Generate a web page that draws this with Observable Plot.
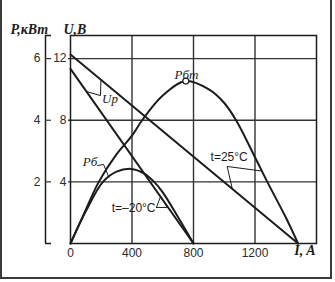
<!DOCTYPE html>
<html><head><meta charset="utf-8">
<script src="https://cdn.jsdelivr.net/npm/d3@7"></script>
<script src="https://cdn.jsdelivr.net/npm/@observablehq/plot@0.6"></script>
<style>
html,body{margin:0;padding:0;background:#fff;}
#wrap{position:relative;width:335px;height:282px;overflow:hidden;background:#fff;}
#border{position:absolute;left:0;top:0;width:332px;height:279px;box-sizing:border-box;border:2px solid #3a3a3a;border-top:none;pointer-events:none;}
</style></head><body>
<div id="wrap"><div id="border"></div></div>
<script>
// ---- data ----
const currentTicks = [0, 400, 800, 1200];      // I, A
const voltageTicks = [4, 8, 12];               // U, V
const powerTicks = [2, 4, 6];                  // P, kW (P axis = U/2)

// Battery power at t = 25°C (kW)
const I_p25 = [0, 100, 184, 300, 400, 466, 600, 750, 900, 1000, 1077, 1200, 1280, 1400, 1480];
const P_p25 = [0, 1.1, 2.0, 2.9, 3.5, 4.0, 4.8, 5.27, 5.0, 4.56, 4.0, 2.8, 2.0, 0.85, 0];

// Battery power at t = -20°C (kW)
const I_m20 = [0, 100, 211, 300, 395, 480, 544, 600, 700, 800];
const P_m20 = [0, 1.05, 2.0, 2.33, 2.42, 2.27, 2.0, 1.66, 0.85, 0];

// Terminal voltage lines (V)
const I_u25 = [0, 1480];
const U_u25 = [12.26, 0];
const I_u20 = [0, 800];
const U_u20 = [11.33, 0];

// Peak power point
const peakI = [750];
const peakP = [5.27];

// annotation labels (data units: I, U); serif ones are centred, sans ones start-anchored
const serifLabels = [
  {I: 754, U: 10.95, text: "Рбт"},
  {I: 127, U: 5.3, text: "Рб"},
  {I: 257, U: 9.4, text: "Uр"}
];
const sansLabels = [
  {I: 911, U: 5.6, text: "t=25°C"},
  {I: 268, U: 2.3, text: "t=–20°C"}
];
// leader lines (I, U)
const leaderUp = [[105, 9.86], [195, 9.6], [198, 10.65]];
const leaderPb = [[176, 5.06], [215, 5.13], [250, 4.3]];
const leader25 = [[1247, 4.7], [1019, 5.0], [1052, 3.56]];
const leader20 = [[559, 2.34], [585, 3.03], [631, 2.34], [559, 2.34]];

// ---- build tables ----
const p25 = I_p25.map((I, i) => ({I, U: P_p25[i] * 2}));
const m20 = I_m20.map((I, i) => ({I, U: P_m20[i] * 2}));
const u25 = I_u25.map((I, i) => ({I, U: U_u25[i]}));
const u20 = I_u20.map((I, i) => ({I, U: U_u20[i]}));
const peak = peakI.map((I, i) => ({I, U: peakP[i] * 2}));

const ink = "#1c1c1c";
const serif = "'Liberation Serif','Times New Roman',serif";
const sans = "'Liberation Sans',Arial,sans-serif";

const curve = (data, c) => Plot.line(data, {x: "I", y: "U", stroke: ink, strokeWidth: 2, curve: c});
const leader = (pts) => Plot.line(pts, {x: d => d[0], y: d => d[1], stroke: ink, strokeWidth: 1});

const chart = Plot.plot({
  width: 335,
  height: 282,
  marginLeft: 70,
  marginRight: 19,
  marginTop: 35,
  marginBottom: 39,
  style: {fontSize: "12px", fontFamily: sans, background: "transparent", color: "#2a2a2a"},
  x: {domain: [0, 1600], label: null},
  y: {domain: [0, 13.5], label: null},
  marks: [
    Plot.gridX(currentTicks.filter(d => d > 0), {stroke: "#333", strokeOpacity: 1, strokeWidth: 1.4}),
    Plot.gridY(voltageTicks, {stroke: "#333", strokeOpacity: 1, strokeWidth: 1.4}),
    Plot.frame({stroke: ink, strokeWidth: 1.5}),
    // U axis
    Plot.axisY({ticks: voltageTicks, label: null, tickSize: 2, tickPadding: 2, stroke: "#333", strokeWidth: 1.4}),
    // P axis (bracket to the left)
    Plot.ruleX([0], {y1: 0, y2: 13.5, dx: -25, stroke: ink, strokeWidth: 1.5}),
    Plot.axisY({ticks: powerTicks.map(p => p * 2), label: null, tickFormat: d => d / 2, tickSize: 6, tickPadding: 5, dx: -19, stroke: "#333", strokeWidth: 1.2}),
    Plot.axisY({ticks: [0, 13.5], label: null, tickFormat: () => "", tickSize: 6, dx: -19, stroke: ink, strokeWidth: 1.5}),
    // I axis
    Plot.axisX({ticks: currentTicks, label: null, tickFormat: d => String(d), tickSize: 0, tickPadding: 5}),
    // curves
    curve(u25, "linear"),
    curve(u20, "linear"),
    curve(p25, "catmull-rom"),
    curve(m20, "catmull-rom"),
    Plot.dot(peak, {x: "I", y: "U", r: 3, fill: "white", stroke: ink, strokeWidth: 1.2}),
    // leaders
    leader(leaderUp), leader(leaderPb), leader(leader25), leader(leader20),
    // labels
    Plot.text(serifLabels, {x: "I", y: "U", text: "text", textAnchor: "middle",
      fontFamily: serif, fontStyle: "italic", fontSize: 13, fill: ink}),
    Plot.text(sansLabels, {x: "I", y: "U", text: "text", textAnchor: "start",
      fontFamily: sans, fontSize: 12, fill: ink}),
    // axis titles
    Plot.text(["P,кВт"], {frameAnchor: "top-left", dx: -60, dy: -11, textAnchor: "start", fontFamily: serif, fontStyle: "italic", fontWeight: "bold", fontSize: 14, fill: ink}),
    Plot.text(["U,В"], {frameAnchor: "top-left", dx: -7, dy: -11, textAnchor: "start", fontFamily: serif, fontStyle: "italic", fontWeight: "bold", fontSize: 14, fill: ink}),
    Plot.text(["I, A"], {frameAnchor: "bottom-right", dx: -1, dy: 11, textAnchor: "end", fontFamily: serif, fontStyle: "italic", fontWeight: "bold", fontSize: 14, fill: ink})
  ]
});
document.getElementById("wrap").prepend(chart);
</script>
</body></html>
